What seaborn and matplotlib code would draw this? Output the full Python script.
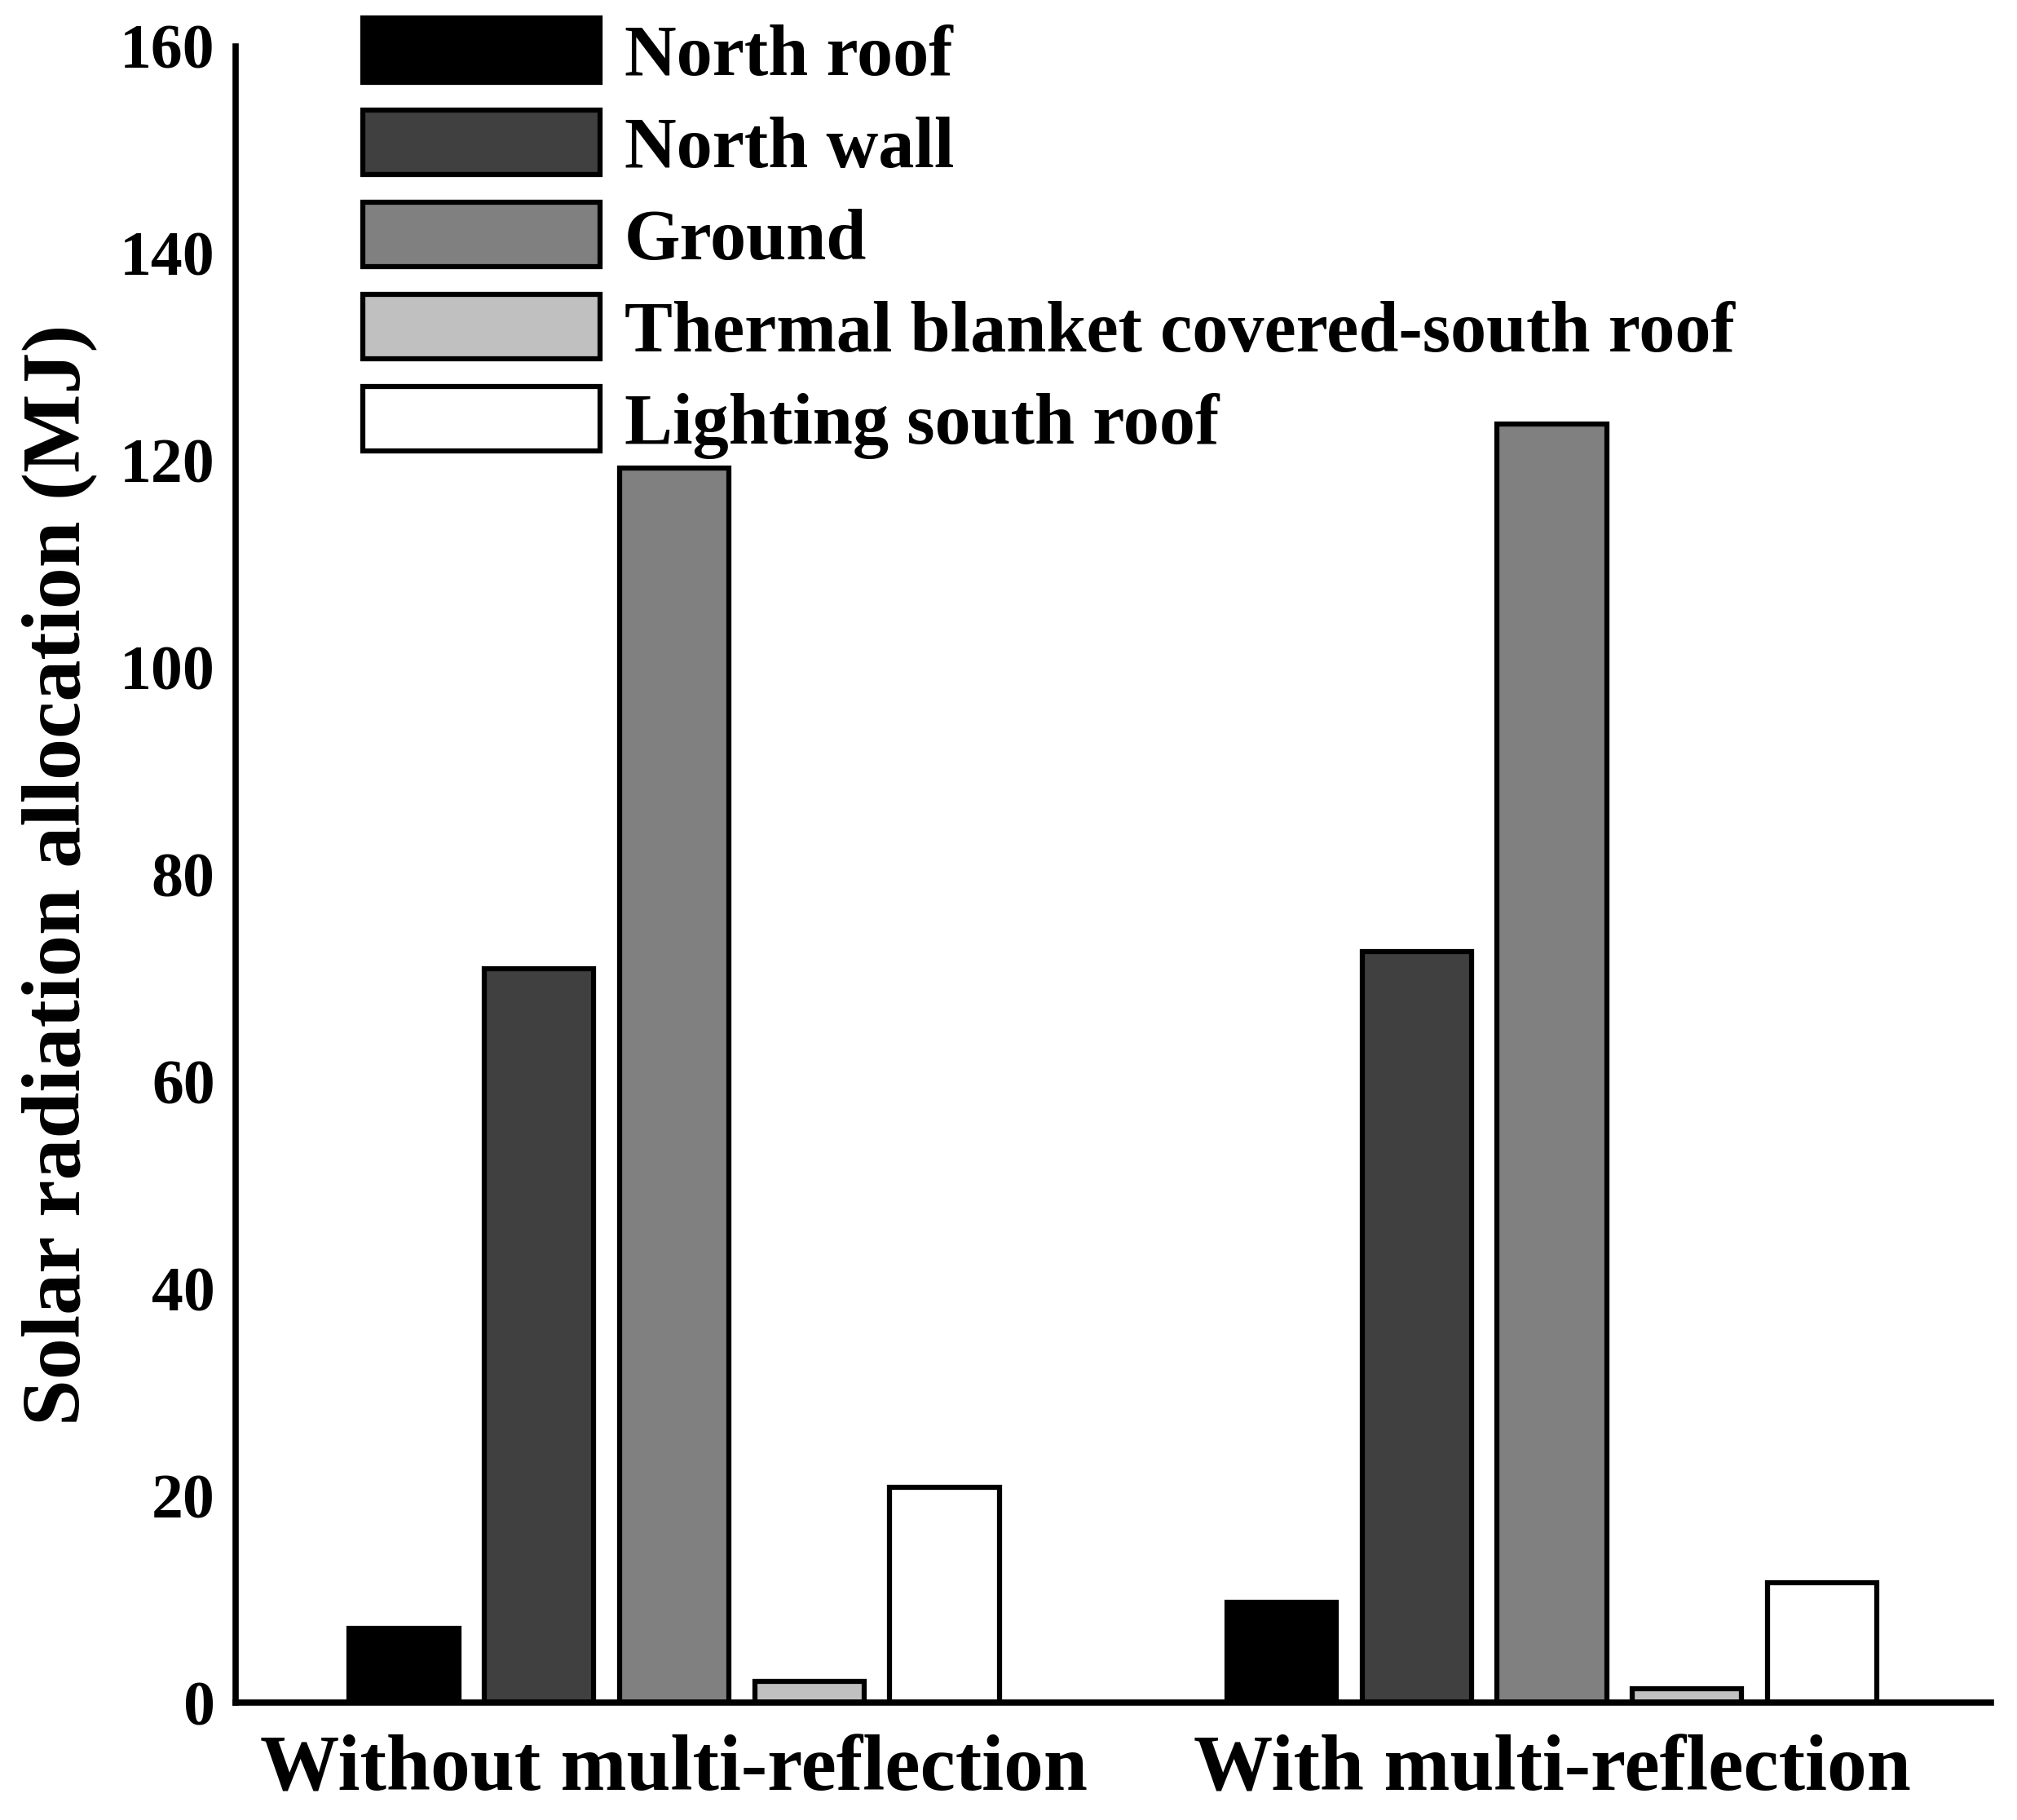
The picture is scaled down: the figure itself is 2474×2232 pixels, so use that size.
import matplotlib
matplotlib.use("Agg")
import matplotlib.pyplot as plt
import seaborn as sns
import pandas as pd
from matplotlib.patches import Patch

groups = ["Without multi-reflection", "With multi-reflection"]
components = ["North roof", "North wall", "Ground",
              "Thermal blanket covered-south roof", "Lighting south roof"]
without_vals = [7.2, 70.9, 119.3, 2.1, 20.8]
with_vals = [9.7, 72.6, 123.5, 1.4, 11.6]
colors = ["#000000", "#404040", "#808080", "#c0c0c0", "#ffffff"]
yticks = [0, 20, 40, 60, 80, 100, 120, 140, 160]

rows = []
for g, vals in zip(groups, [without_vals, with_vals]):
    for c, v in zip(components, vals):
        rows.append({"group": g, "component": c, "value": v})
df = pd.DataFrame(rows)

sns.set_theme(style="white")
plt.rcParams["font.family"] = ["Liberation Serif", "DejaVu Serif"]
plt.rcParams["font.weight"] = "bold"
plt.rcParams["text.color"] = "black"
plt.rcParams["axes.labelcolor"] = "black"
plt.rcParams["xtick.color"] = "black"
plt.rcParams["ytick.color"] = "black"

fig = plt.figure(figsize=(24.74, 22.32), dpi=100)
ax = fig.add_axes([0.1167, 0.0643, 0.8703, 0.9102])

sns.barplot(data=df, x="group", y="value", hue="component",
            order=groups, hue_order=components, palette=colors,
            width=0.77, gap=0.19, edgecolor="black", linewidth=4.5,
            saturation=1, legend=False, ax=ax, errorbar=None)

ax.set_xlim(-0.5, 1.5)
ax.set_ylim(0, 160)
ax.set_yticks(yticks)
ax.set_yticklabels([str(t) for t in yticks], fontsize=56, fontweight="bold", color="black")
ax.set_xticks([0, 1])
ax.set_xticklabels(groups, fontsize=70, fontweight="bold", color="black")
ax.set_xlabel("")
ax.set_ylabel("Solar radiation allocation (MJ)", fontsize=73.5, fontweight="bold",
              labelpad=20, color="black")

for s in ["top", "right"]:
    ax.spines[s].set_visible(False)
for s in ["left", "bottom"]:
    ax.spines[s].set_linewidth(5.5)
    ax.spines[s].set_color("black")
ax.tick_params(axis="y", direction="in", length=14, width=5.5, pad=18, colors="black")
ax.tick_params(axis="x", length=0, pad=28, colors="black")

handles = [Patch(facecolor=c, edgecolor="black", linewidth=4.5) for c in colors]
leg = ax.legend(handles, components, loc="upper left", bbox_to_anchor=(0.0725, 1.017),
                frameon=False, prop={"family": "Liberation Serif", "weight": "bold", "size": 63.5},
                handlelength=3.3, handleheight=1.0, labelspacing=0.275, handletextpad=0.34,
                borderaxespad=0, borderpad=0)
for t in leg.get_texts():
    t.set_color("black")

fig.savefig("out.png", dpi=100, facecolor="white")
